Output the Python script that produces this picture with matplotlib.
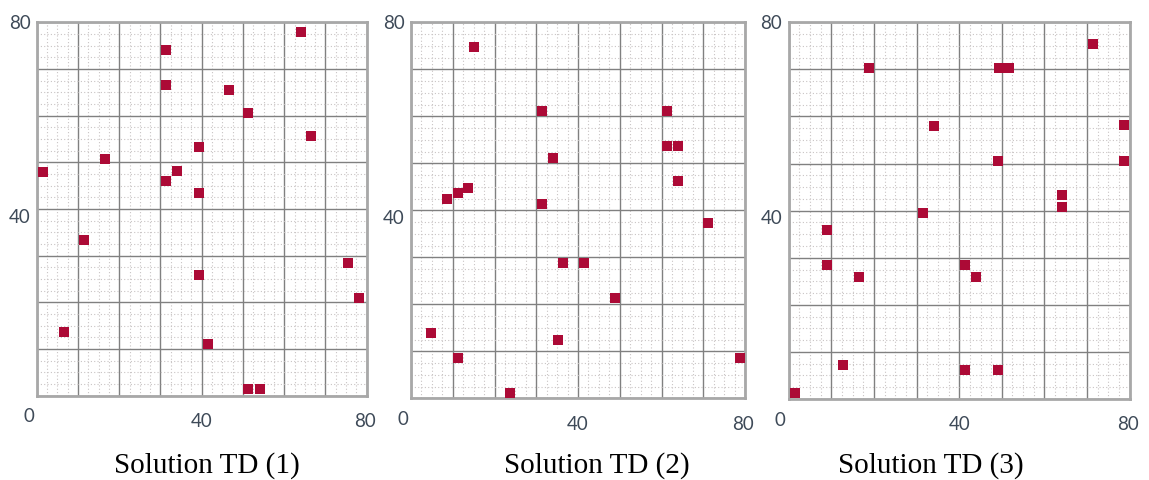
import matplotlib
matplotlib.use("Agg")
import matplotlib.pyplot as plt
from matplotlib.ticker import MultipleLocator

# ---- data ----
titles = ["Solution TD (1)", "Solution TD (2)", "Solution TD (3)"]
tick_values = [0, 40, 80]

td1_x = [64.0, 31.4, 31.4, 46.5, 51.3, 66.5, 39.3, 16.6, 1.5, 34.0,
         31.4, 39.3, 11.5, 39.3, 75.4, 78.1, 6.5, 41.6, 51.3, 54.1]
td1_y = [77.9, 74.1, 66.6, 65.6, 60.5, 55.7, 53.2, 50.7, 48.0, 48.2,
         45.9, 43.4, 33.4, 25.9, 28.4, 20.9, 13.6, 11.1, 1.4, 1.4]

td2_x = [15.0, 31.3, 61.3, 61.3, 63.9, 33.9, 63.9, 13.7, 11.2, 8.6,
         31.3, 71.2, 36.5, 41.4, 48.8, 4.8, 35.1, 11.2, 78.8, 23.8]
td2_y = [74.7, 61.2, 61.2, 53.7, 53.7, 51.1, 46.2, 44.8, 43.7, 42.3,
         41.3, 37.4, 28.7, 28.7, 21.3, 13.9, 12.4, 8.6, 8.6, 1.1]

td3_x = [71.3, 18.9, 49.3, 51.6, 34.0, 78.7, 49.1, 78.7, 64.0, 64.0,
         31.5, 8.9, 8.9, 16.4, 41.3, 44.0, 12.7, 41.3, 49.1, 1.4]
td3_y = [75.4, 70.4, 70.4, 70.4, 58.0, 58.2, 50.6, 50.6, 43.4, 40.8,
         39.4, 35.8, 28.4, 26.0, 28.4, 26.0, 7.2, 6.1, 6.2, 1.3]

series = [(td1_x, td1_y), (td2_x, td2_y), (td3_x, td3_y)]

# ---- layout ----
W, H = 1149, 481
fig = plt.figure(figsize=(W / 100, H / 100), dpi=100)
fig.patch.set_facecolor("white")

# axes boxes in pixels: left, top, right, bottom
boxes = [(36.7, 23.3, 366.7, 396.7),
         (411.0, 23.3, 745.0, 399.3),
         (788.7, 23.3, 1129.7, 400.0)]
caption_x = [207, 597, 931]

label_color = "#3e4a58"
marker_color = "#ac0a36"

for (l, t, r, b), (xs, ys), title, cx in zip(boxes, series, titles, caption_x):
    ax = fig.add_axes([l / W, 1 - b / H, (r - l) / W, (b - t) / H])
    ax.set_xlim(0, 80)
    ax.set_ylim(0, 80)
    ax.xaxis.set_major_locator(MultipleLocator(10))
    ax.yaxis.set_major_locator(MultipleLocator(10))
    ax.xaxis.set_minor_locator(MultipleLocator(2.5))
    ax.yaxis.set_minor_locator(MultipleLocator(2.5))
    ax.grid(which="minor", color="#c9c4c4", linestyle=(0, (1, 2)), linewidth=0.8)
    ax.grid(which="major", color="#808080", linestyle="-", linewidth=1.0)
    ax.set_axisbelow(True)
    for s in ax.spines.values():
        s.set_color("#a8a8a8")
        s.set_linewidth(2.0)
    ax.tick_params(which="both", length=0, labelbottom=False, labelleft=False)

    ax.scatter(xs, ys, marker="s", s=58, color=marker_color, linewidths=0,
               zorder=5, clip_on=False)

    # axis value labels
    fs = 13.5
    ax.text(-1.5, 80, str(tick_values[2]), ha="right", va="center", fontsize=fs,
            color=label_color, family="Lato")
    ax.text(-1.5, 38.5, str(tick_values[1]), ha="right", va="center", fontsize=fs,
            color=label_color, family="Lato")
    ax.text(-2, -2.5, str(tick_values[0]), ha="center", va="top", fontsize=fs,
            color=label_color, family="Lato")
    ax.text(40, -3.5, str(tick_values[1]), ha="center", va="top", fontsize=fs,
            color=label_color, family="Lato")
    ax.text(79.5, -3.5, str(tick_values[2]), ha="center", va="top", fontsize=fs,
            color=label_color, family="Lato")

    fig.text(cx / W, 1 - 466 / H, title, ha="center", va="center",
             fontsize=21, family="Liberation Serif", color="black")

fig.savefig("out.png", dpi=100, facecolor="white")
